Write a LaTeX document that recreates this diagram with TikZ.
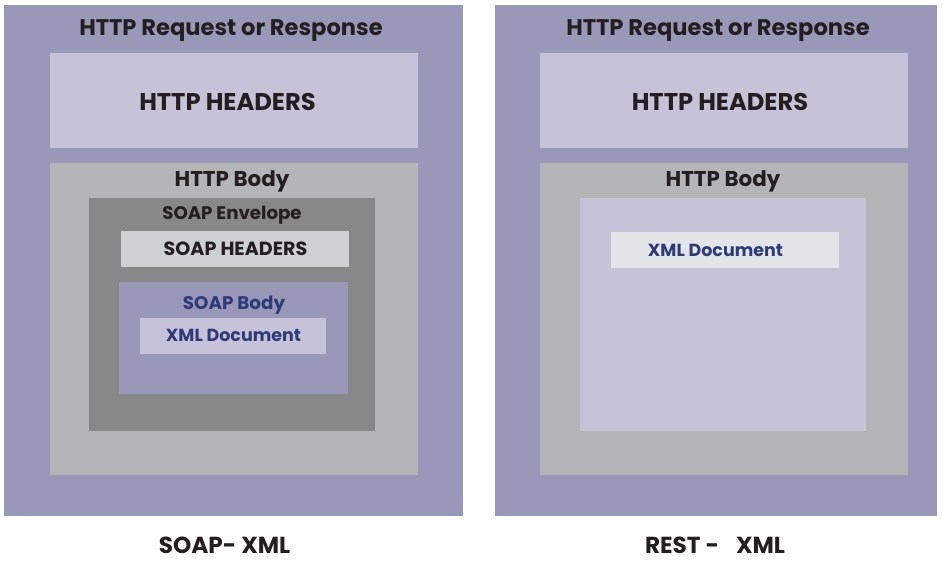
\documentclass[tikz,border=0pt]{standalone}
\usepackage{fontspec}
\setmainfont{Poppins}
\definecolor{outerc}{HTML}{9A98B8}
\definecolor{hdrc}{HTML}{C6C3D8}
\definecolor{bodyc}{HTML}{B4B5B7}
\definecolor{envc}{HTML}{888888}
\definecolor{shdrc}{HTML}{CFD0D2}
\definecolor{xmlrc}{HTML}{E4E5E8}
\definecolor{txtc}{HTML}{231F20}
\definecolor{navyc}{HTML}{2E3B78}
\begin{document}
\begin{tikzpicture}[x=1pt,y=-1pt,
  t/.style={text=txtc,inner sep=0pt,anchor=base},
  fs/.style={font=\bfseries\fontsize{#1}{#1}\selectfont}]
\fill[white] (0,0) rectangle (943,560);
\useasboundingbox (0,0) rectangle (943,560);
% ---------- left: SOAP ----------
\fill[outerc] (4,5) rectangle (463,516);
\fill[hdrc] (50,53) rectangle (418,148);
\fill[bodyc] (50,163) rectangle (418,475);
\fill[envc] (89,198) rectangle (375,431);
\fill[shdrc] (121,231) rectangle (349,267);
\fill[outerc] (119,282) rectangle (348,394);
\fill[hdrc] (140,318) rectangle (326,354);
\node[t,fs=22.6] (lreq) at (231,35) {HTTP Request or Response};
\node[t,fs=24.2] (lhdr) at (227.5,110) {HTTP HEADERS};
\node[t,fs=21.4] (lbody) at (232,186.7) {HTTP Body};
\node[t,fs=18.2] (lenv) at (232,219.3) {SOAP Envelope};
\node[t,fs=19.1] (lsh) at (235.5,255) {SOAP HEADERS};
\node[t,fs=18.3,text=navyc] (lsb) at (234,309) {SOAP Body};
\node[t,fs=17.5,text=navyc] (lxml) at (233.5,341.7) {XML Document};
\node[t,fs=23.2] (lcap) at (224.5,553) {SOAP- XML};
% ---------- right: REST ----------
\fill[outerc] (495,5) rectangle (937,516);
\fill[hdrc] (540,53) rectangle (908,148);
\fill[bodyc] (540,163) rectangle (908,475);
\fill[hdrc] (580,198) rectangle (866,431);
\fill[xmlrc] (611,232) rectangle (839,268);
\node[t,fs=22.6] (rreq) at (718,35) {HTTP Request or Response};
\node[t,fs=24.2] (rhdr) at (720,110) {HTTP HEADERS};
\node[t,fs=21.4] (rbody) at (723,186.7) {HTTP Body};
\node[t,fs=17.5,text=navyc] (rxml) at (715.5,256.7) {XML Document};
\node[t,fs=23.2] (rcap) at (715,553) {REST -\hspace{17pt}XML};
\end{tikzpicture}
\end{document}
